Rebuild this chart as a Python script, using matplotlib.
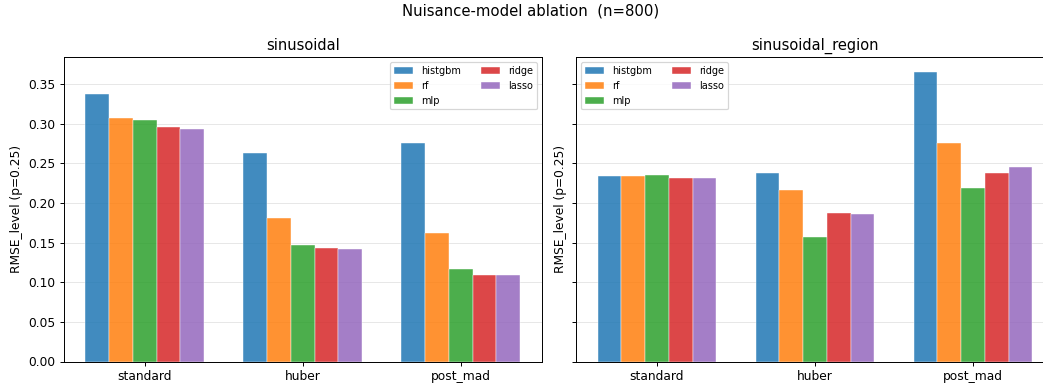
import numpy as np
import matplotlib.pyplot as plt

# RMSE per nuisance model, grouped by estimator variant
variants = ['standard', 'huber', 'post_mad']
models = ['histgbm', 'rf', 'mlp', 'ridge', 'lasso']

# sinusoidal design
sin_histgbm = [0.338, 0.263, 0.276]
sin_rf = [0.307, 0.181, 0.162]
sin_mlp = [0.305, 0.147, 0.117]
sin_ridge = [0.296, 0.143, 0.109]
sin_lasso = [0.294, 0.142, 0.109]

# sinusoidal_region design
reg_histgbm = [0.234, 0.238, 0.366]
reg_rf = [0.234, 0.217, 0.276]
reg_mlp = [0.235, 0.157, 0.219]
reg_ridge = [0.232, 0.188, 0.238]
reg_lasso = [0.232, 0.186, 0.246]

panels = [
    ('sinusoidal', [sin_histgbm, sin_rf, sin_mlp, sin_ridge, sin_lasso], 'upper right'),
    ('sinusoidal_region', [reg_histgbm, reg_rf, reg_mlp, reg_ridge, reg_lasso], 'upper left'),
]
colors = ['tab:blue', 'tab:orange', 'tab:green', 'tab:red', 'tab:purple']

DPI = 88
fig = plt.figure(figsize=(1043/DPI, 387/DPI), dpi=DPI)
ax1 = fig.add_axes([63.7/1043, 25.5/387, 478/1043, 304.5/387])
ax2 = fig.add_axes([576/1043, 25.5/387, 478/1043, 304.5/387], sharey=ax1)

x = np.arange(len(variants))
w = 0.15
for ax, (title, series, loc) in zip([ax1, ax2], panels):
    for i, (name, vals) in enumerate(zip(models, series)):
        ax.bar(x + (i - 2) * w, vals, width=w, color=colors[i], alpha=0.85,
               edgecolor='white', linewidth=0.4, label=name)
    ax.set_xticks(x)
    ax.set_xticklabels(variants)
    ax.set_title(title)
    ax.set_ylabel('RMSE_level (p=0.25)')
    ax.grid(axis='y', alpha=0.3)
    ax.set_axisbelow(True)
    ax.legend(loc=loc, ncol=2, fontsize=8)

plt.setp(ax2.get_yticklabels(), visible=False)
fig.suptitle('Nuisance-model ablation  (n=800)', fontsize=12.2, x=0.509, y=0.99)

fig.savefig('out.png', dpi=DPI)
